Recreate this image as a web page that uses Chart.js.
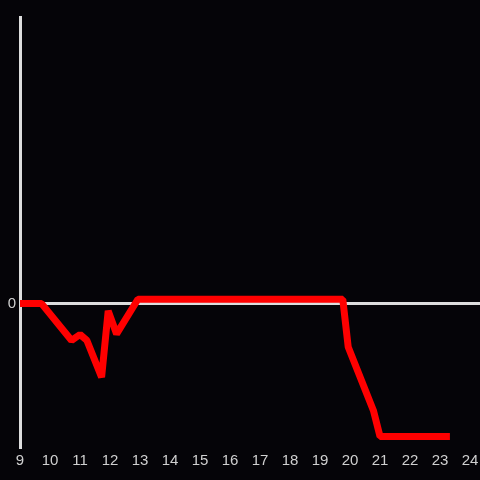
<!DOCTYPE html>
<html>
<head>
<meta charset="utf-8">
<script src="https://cdn.jsdelivr.net/npm/chart.js@4"></script>
<style>
  html, body { margin: 0; padding: 0; background: #050408; }
  #wrap { width: 480px; height: 480px; }
</style>
</head>
<body>
<div id="wrap"><canvas id="c" width="480" height="480"></canvas></div>
<script>
// hours of the day and the series value
const hours  = [9, 9.72, 10.72, 11.0, 11.23, 11.72, 11.94, 12.22, 12.93, 19.76, 19.94, 20.78, 21.0, 23.33];
const values = [0, 0, -0.255, -0.214, -0.255, -0.51, -0.05, -0.21, 0.03, 0.03, -0.30, -0.74, -0.92, -0.92];
const xTicks = [9, 10, 11, 12, 13, 14, 15, 16, 17, 18, 19, 20, 21, 22, 23, 24];
const yTicks = [0];

const axisColor = '#dddddd';
const labelColor = '#d0d0d0';

// zero line runs from the y axis to the right edge of the canvas
const zeroLine = {
    id: 'zeroLine',
    beforeDatasetsDraw(chart) {
        const ctx = chart.ctx, y = chart.scales.y.getPixelForValue(0);
        ctx.save();
        ctx.strokeStyle = axisColor;
        ctx.lineWidth = 3;
        ctx.beginPath();
        ctx.moveTo(chart.chartArea.left, y);
        ctx.lineTo(chart.width, y);
        ctx.stroke();
        ctx.restore();
    }
};

new Chart(document.getElementById('c').getContext('2d'), {
    type: 'line',
    data: {
        datasets: [{
            data: hours.map((h, i) => ({ x: h, y: values[i] })),
            borderColor: '#ff0000', borderWidth: 7, pointRadius: 0,
            tension: 0, fill: false, borderJoinStyle: 'bevel'
        }]
    },
    options: {
        responsive: false, animation: false,
        layout: { padding: { top: 17, right: 10, left: 0, bottom: 0 } },
        plugins: { legend: { display: false }, tooltip: { enabled: false } },
        scales: {
            x: {
                type: 'linear', min: 9, max: 24,
                afterBuildTicks: s => { s.ticks = xTicks.map(v => ({ value: v })); },
                afterFit: s => { s.height = 32; s.paddingLeft = 0; s.paddingRight = 10; },
                grid: { display: false, drawTicks: false },
                border: { display: false },
                ticks: { color: labelColor, font: { family: 'Liberation Sans', size: 15 }, padding: 4, maxRotation: 0, autoSkip: false }
            },
            y: {
                min: -1, max: 1.985,
                afterBuildTicks: s => { s.ticks = yTicks.map(v => ({ value: v })); },
                afterFit: s => { s.width = 20; },
                grid: { display: false, drawTicks: false },
                border: { display: true, color: axisColor, width: 3 },
                ticks: { color: labelColor, font: { family: 'Liberation Sans', size: 15 }, padding: 4 }
            }
        }
    },
    plugins: [zeroLine]
});
</script>
</body>
</html>
